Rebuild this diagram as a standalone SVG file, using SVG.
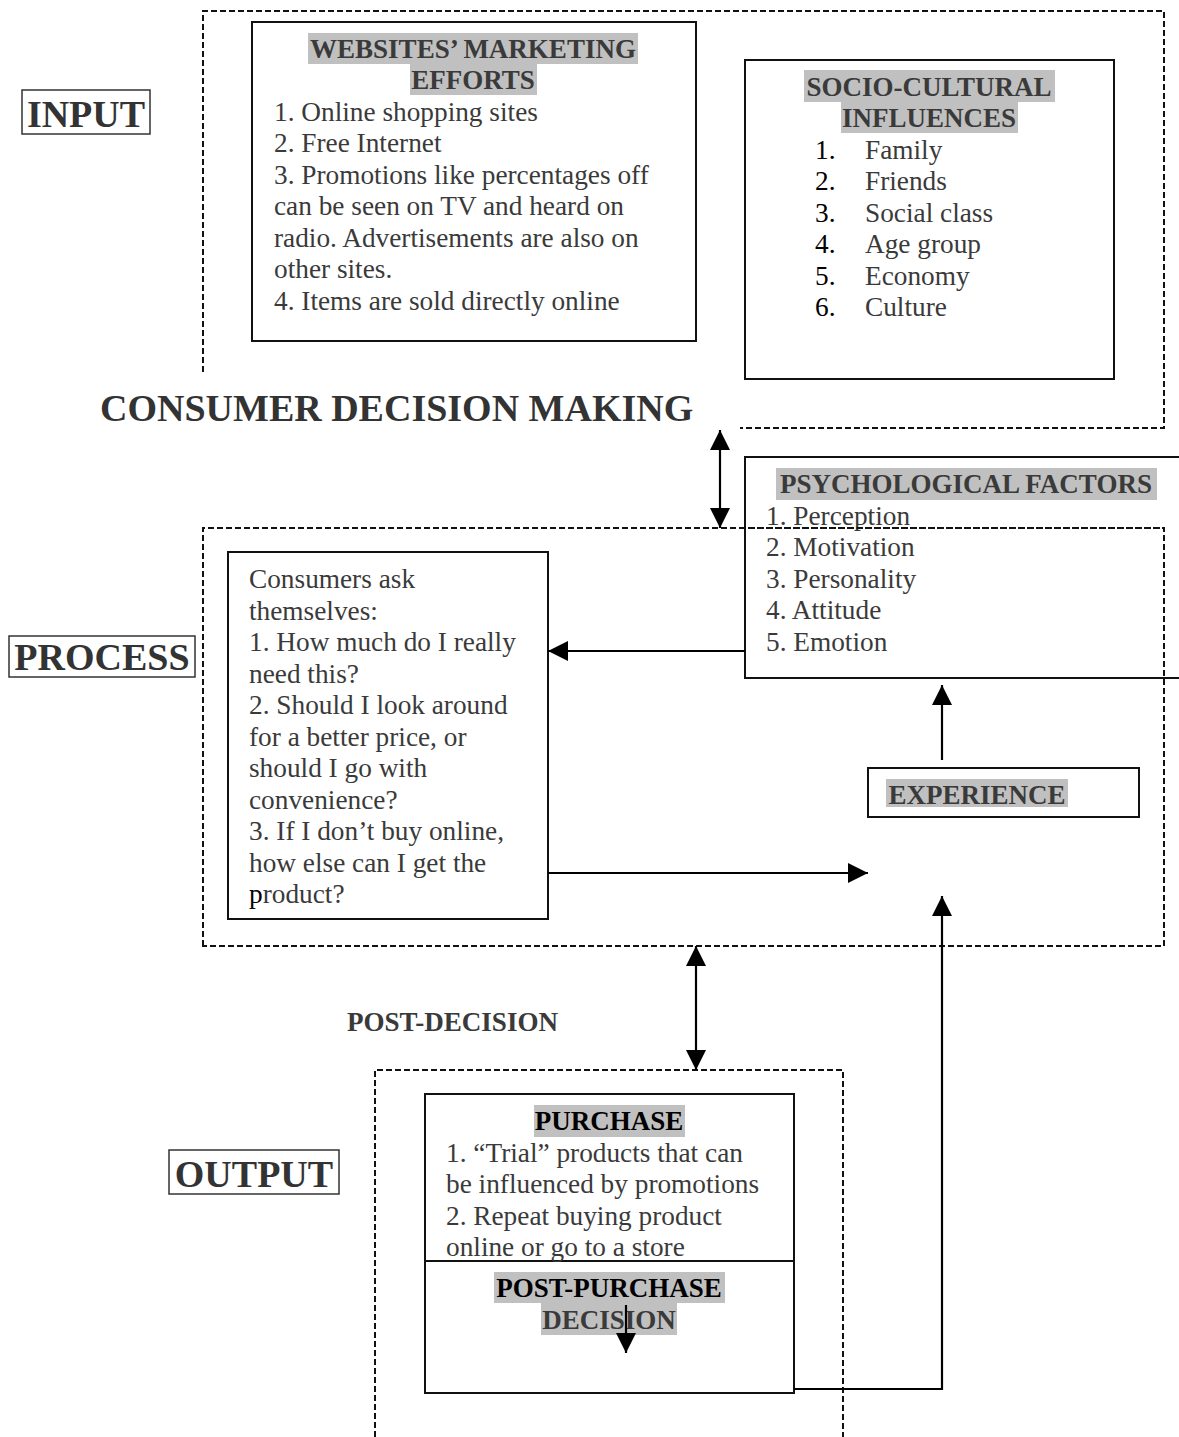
<svg xmlns="http://www.w3.org/2000/svg" width="1179" height="1437" viewBox="0 0 1179 1437">
<defs>
<style>
.t{font-family:"Liberation Serif","Times New Roman",serif;font-size:27.3px;fill:#3a3a3a}
.b{font-weight:bold;font-size:27px}
.big{font-family:"Liberation Serif","Times New Roman",serif;font-size:38px;font-weight:bold;fill:#333}
.k{fill:#000}
.hl{fill:#c0c0c0}
.box{fill:#fff;stroke:#111;stroke-width:2}
.lbl{fill:none;stroke:#333;stroke-width:1.5}
.dash{fill:none;stroke:#111;stroke-width:2;stroke-dasharray:6 3}
.con{fill:none;stroke:#000;stroke-width:2.2}
</style>
<marker id="ah" viewBox="0 0 20 20" refX="20" refY="10" markerWidth="20" markerHeight="20" markerUnits="userSpaceOnUse" orient="auto-start-reverse">
<path d="M0,0 L20,10 L0,20 z" fill="#000"/>
</marker>
</defs>
<rect width="1179" height="1437" fill="#fff"/>

<g id="frames">
<path class="dash" d="M203,372 V11 H1164 V428 H740"/>
<path class="dash" d="M203,946 V528 H1164 V946 Z"/>
<path class="dash" d="M375,1437 V1070 H843 V1437"/>
</g>

<g id="label-input">
<rect class="lbl" x="22" y="90" width="128" height="44"/>
<text class="big" x="86" y="127" text-anchor="middle">INPUT</text>
</g>
<g id="label-process">
<rect class="lbl" x="9" y="636" width="186" height="41"/>
<text class="big" x="102" y="670" text-anchor="middle">PROCESS</text>
</g>
<g id="label-output">
<rect class="lbl" x="169" y="1150" width="170" height="44"/>
<text class="big" x="254" y="1187" text-anchor="middle">OUTPUT</text>
</g>
<g id="title">
<text class="big" x="100" y="421">CONSUMER DECISION MAKING</text>
</g>
<g id="post-decision-label">
<text class="t b" x="347" y="1031" textLength="211" lengthAdjust="spacingAndGlyphs">POST-DECISION</text>
</g>

<g id="websites">
<rect class="box" x="252" y="22" width="444" height="319"/>
<rect class="hl" x="308" y="33" width="330" height="31"/>
<rect class="hl" x="410" y="64" width="127" height="31"/>
<text class="t b" x="473" y="58" text-anchor="middle">WEBSITES’ MARKETING</text>
<text class="t b" x="473" y="89" text-anchor="middle">EFFORTS</text>
<text class="t" x="274" y="121">1. Online shopping sites</text>
<text class="t" x="274" y="152">2. Free Internet</text>
<text class="t" x="274" y="184">3. Promotions like percentages off</text>
<text class="t" x="274" y="215">can be seen on TV and heard on</text>
<text class="t" x="274" y="247">radio. Advertisements are also on</text>
<text class="t" x="274" y="278">other sites.</text>
<text class="t" x="274" y="310">4. Items are sold directly online</text>
</g>

<g id="socio">
<rect class="box" x="745" y="60" width="369" height="319"/>
<rect class="hl" x="804" y="70" width="251" height="32"/>
<rect class="hl" x="841" y="102" width="177" height="31"/>
<text class="t b" x="929" y="96" text-anchor="middle">SOCIO-CULTURAL</text>
<text class="t b" x="929" y="127" text-anchor="middle">INFLUENCES</text>
<text class="t k" x="815" y="159">1.</text><text class="t" x="865" y="159">Family</text>
<text class="t k" x="815" y="190">2.</text><text class="t" x="865" y="190">Friends</text>
<text class="t k" x="815" y="222">3.</text><text class="t" x="865" y="222">Social class</text>
<text class="t k" x="815" y="253">4.</text><text class="t" x="865" y="253">Age group</text>
<text class="t k" x="815" y="285">5.</text><text class="t" x="865" y="285">Economy</text>
<text class="t k" x="815" y="316">6.</text><text class="t" x="865" y="316">Culture</text>
</g>

<g id="psychological">
<path d="M1180,457 H745 V678 H1180" fill="none" stroke="#111" stroke-width="2"/>
<rect class="hl" x="776" y="468" width="381" height="32"/>
<text class="t b" x="966" y="493" text-anchor="middle">PSYCHOLOGICAL FACTORS</text>
<text class="t" x="766" y="525">1. Perception</text>
<text class="t" x="766" y="556">2. Motivation</text>
<text class="t" x="766" y="588">3. Personality</text>
<text class="t" x="766" y="619">4. Attitude</text>
<text class="t" x="766" y="651">5. Emotion</text>
</g>
<path class="dash" d="M740,528 H1164"/>

<g id="consumers">
<rect class="box" x="228" y="552" width="320" height="367"/>
<text class="t" x="249" y="588">Consumers ask</text>
<text class="t" x="249" y="620">themselves:</text>
<text class="t" x="249" y="651">1. How much do I really</text>
<text class="t" x="249" y="683">need this?</text>
<text class="t" x="249" y="714">2. Should I look around</text>
<text class="t" x="249" y="746">for a better price, or</text>
<text class="t" x="249" y="777">should I go with</text>
<text class="t" x="249" y="809">convenience?</text>
<text class="t" x="249" y="840">3. If I don’t buy online,</text>
<text class="t" x="249" y="872">how else can I get the</text>
<text class="t" x="249" y="903"><tspan class="k">p</tspan>roduct?</text>
</g>

<g id="experience">
<rect class="box" x="868" y="768" width="271" height="49"/>
<rect class="hl" x="886" y="779" width="182" height="28"/>
<text class="t b" x="977" y="804" text-anchor="middle">EXPERIENCE</text>
</g>

<g id="purchase">
<rect class="box" x="425" y="1094" width="369" height="299"/>
<line x1="425" y1="1261" x2="794" y2="1261" stroke="#111" stroke-width="2"/>
<rect class="hl" x="534" y="1105" width="151" height="32"/>
<text class="t b k" x="609" y="1130" text-anchor="middle">PURCHASE</text>
<text class="t" x="446" y="1162">1. “Trial” products that can</text>
<text class="t" x="446" y="1193">be influenced by promotions</text>
<text class="t" x="446" y="1225">2. Repeat buying product</text>
<text class="t" x="446" y="1256">online or go to a store</text>
<rect class="hl" x="494" y="1272" width="231" height="31"/>
<rect class="hl" x="541" y="1303" width="136" height="32"/>
<text class="t b k" x="609" y="1297" text-anchor="middle">POST-PURCHASE</text>
<text class="t b" x="609" y="1329" text-anchor="middle">DECISION</text>
</g>

<g id="connectors">
<line class="con" x1="720" y1="430" x2="720" y2="528" marker-start="url(#ah)" marker-end="url(#ah)"/>
<line class="con" x1="745" y1="651" x2="548" y2="651" marker-end="url(#ah)"/>
<line class="con" x1="548" y1="873" x2="868" y2="873" marker-end="url(#ah)"/>
<line class="con" x1="942" y1="760" x2="942" y2="685" marker-end="url(#ah)"/>
<path class="con" d="M794,1389 H942 V896" marker-end="url(#ah)"/>
<line class="con" x1="696" y1="946" x2="696" y2="1070" marker-start="url(#ah)" marker-end="url(#ah)"/>
<line class="con" x1="626" y1="1305" x2="626" y2="1353" marker-end="url(#ah)"/>
</g>
</svg>
